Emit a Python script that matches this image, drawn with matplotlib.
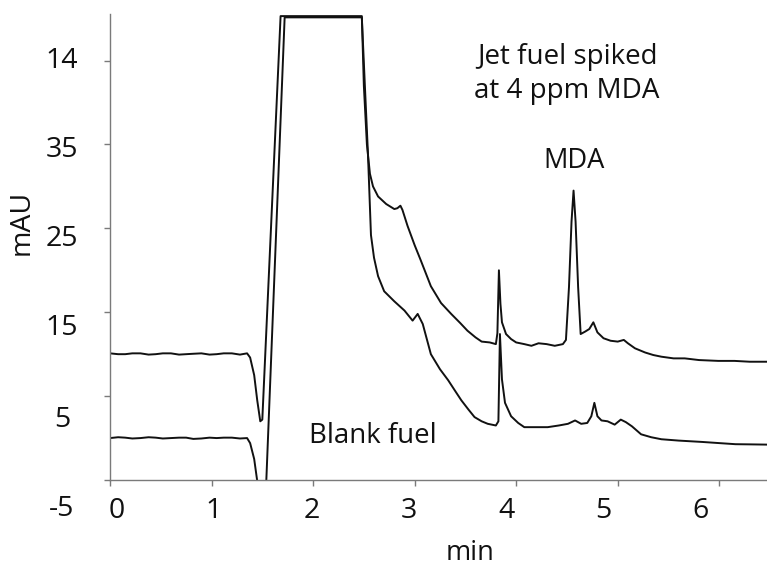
import matplotlib
matplotlib.use("Agg")
import matplotlib.pyplot as plt
from matplotlib.transforms import blended_transform_factory

# ---- data (time in min, absorbance in mAU) ----------------------------------
spiked_t = [0.00, 0.08, 0.15, 0.22, 0.30, 0.38, 0.45, 0.52, 0.60, 0.68, 0.75, 0.82, 0.90, 0.98,
            1.05, 1.12, 1.20, 1.28, 1.35, 1.38, 1.42, 1.45, 1.48,
            1.50, 1.68, 2.48, 2.50, 2.53, 2.56, 2.59, 2.64, 2.72, 2.80, 2.83, 2.86, 2.88, 2.93,
            3.00, 3.06, 3.16, 3.26, 3.36, 3.45, 3.52, 3.60, 3.66, 3.74, 3.80, 3.815, 3.83, 3.845,
            3.86, 3.90, 3.95, 4.00, 4.08, 4.15, 4.22, 4.30, 4.38, 4.46, 4.49, 4.52, 4.545, 4.565,
            4.585, 4.61, 4.635, 4.68, 4.72, 4.76, 4.80, 4.86, 4.93, 5.00, 5.06, 5.10, 5.17, 5.27,
            5.35, 5.43, 5.55, 5.66, 5.80, 5.99, 6.15, 6.30, 6.47]
spiked_mau = [10.1, 10.0, 10.0, 10.1, 10.1, 9.95, 10.0, 10.1, 10.1, 9.95, 10.0, 10.05, 10.1, 9.95,
              10.0, 10.1, 10.1, 9.95, 10.1, 9.6, 7.5, 4.5, 2.0,
              2.2, 50.3, 50.3, 42.0, 35.0, 31.5, 30.0, 28.8, 27.9, 27.3, 27.4, 27.7, 27.2, 25.3,
              23.0, 21.2, 18.1, 16.1, 14.8, 13.7, 12.8, 12.0, 11.5, 11.4, 11.2, 12.5, 20.0, 16.0,
              13.8, 12.4, 11.8, 11.4, 11.2, 11.0, 11.3, 11.2, 11.0, 11.2, 11.7, 18.0, 25.8, 29.5,
              25.8, 18.0, 12.4, 12.7, 13.0, 13.8, 12.6, 11.9, 11.6, 11.5, 11.7, 11.3, 10.7, 10.2,
              9.9, 9.7, 9.5, 9.5, 9.3, 9.2, 9.2, 9.1, 9.1]

blank_t = [0.00, 0.08, 0.15, 0.22, 0.30, 0.38, 0.45, 0.52, 0.60, 0.68, 0.75, 0.82, 0.90, 0.98,
           1.05, 1.12, 1.20, 1.28, 1.35, 1.38, 1.42, 1.46, 1.49,
           1.52, 1.72, 2.48, 2.51, 2.54, 2.57, 2.60, 2.64, 2.70, 2.80, 2.90, 2.98, 3.03, 3.08,
           3.12, 3.16, 3.25, 3.33, 3.40, 3.46, 3.53, 3.59, 3.66, 3.72, 3.80, 3.825, 3.84, 3.86,
           3.89, 3.95, 4.02, 4.08, 4.20, 4.31, 4.42, 4.51, 4.58, 4.64, 4.70, 4.74, 4.77, 4.80,
           4.84, 4.90, 4.97, 5.03, 5.08, 5.14, 5.23, 5.33, 5.43, 5.60, 5.83, 6.00, 6.16, 6.30, 6.47]
blank_mau = [0.0, 0.1, 0.05, -0.05, 0.0, 0.1, 0.05, -0.05, 0.0, 0.05, 0.05, -0.1, -0.05, 0.05,
             0.0, 0.05, 0.05, -0.05, 0.0, -0.6, -2.5, -6.0, -10.0,
             -11.0, 50.15, 50.15, 42.0, 34.0, 24.2, 21.5, 19.3, 17.5, 16.3, 15.2, 14.0, 14.8, 13.6,
             11.8, 10.0, 8.2, 6.9, 5.6, 4.5, 3.4, 2.5, 2.0, 1.7, 1.5, 2.0, 12.4, 7.0,
             4.2, 2.6, 1.8, 1.3, 1.3, 1.3, 1.5, 1.7, 2.1, 1.7, 1.8, 2.6, 4.2, 2.6,
             2.1, 2.0, 1.6, 2.2, 1.9, 1.4, 0.45, 0.1, -0.14, -0.3, -0.46, -0.6, -0.73, -0.75, -0.78]

x_ticks = [0, 1, 2, 3, 4, 5, 6]
x_labels = ["0", "1", "2", "3", "4", "5", "6"]
y_ticks = [-5, 5, 15, 25, 35, 45]
y_labels = ["-5", "5", "15", "25", "35", "14"]
# the printed labels sit slightly off their tick marks in the source figure
x_label_pos = [0.066, 1.025, 1.984, 2.943, 3.902, 4.861, 5.82]
y_label_pos = [-8.4, 2.2, 13.1, 23.7, 34.3, 45.0]

INK = "#111111"
AXIS = "#7a7a7a"
plt.rcParams.update({"font.family": ["Open Sans", "DejaVu Sans"], "font.size": 20.5})

fig = plt.figure(figsize=(7.67, 5.68), dpi=100)
ax = fig.add_axes([0.1434, 0.1549, 0.8566, 0.8197])

ax.plot(spiked_t, spiked_mau, color=INK, lw=1.4, solid_joinstyle="round")
ax.plot(blank_t, blank_mau, color=INK, lw=1.4, solid_joinstyle="round")

ax.set_xlim(0, 6.47)
ax.set_ylim(-5, 50.5)
for s in ("top", "right"):
    ax.spines[s].set_visible(False)
for s in ("left", "bottom"):
    ax.spines[s].set_color(AXIS)
    ax.spines[s].set_linewidth(1.0)
ax.set_xticks(x_ticks)
ax.set_yticks(y_ticks)
ax.set_xticklabels([])
ax.set_yticklabels([])
ax.tick_params(direction="out", length=4, width=1.0, color=AXIS)

tx = blended_transform_factory(ax.transData, fig.transFigure)
for p, lab in zip(x_label_pos, x_labels):
    ax.text(p, 1 - 511 / 568, lab, transform=tx, ha="center", va="center", color=INK)
ty = blended_transform_factory(fig.transFigure, ax.transData)
for p, lab in zip(y_label_pos, y_labels):
    ax.text(62 / 767, p, lab, transform=ty, ha="center", va="center", color=INK)

fig.text(470 / 767, 1 - 553 / 568, "min", ha="center", va="center", fontsize=19.5, color=INK)
fig.text(22 / 767, 1 - 222 / 568, "mAU", ha="center", va="center", rotation=90, color=INK)

ax.text(4.50, 43.4, "Jet fuel spiked\nat 4 ppm MDA", ha="center", va="center",
        fontsize=20, color=INK, linespacing=1.3)
ax.text(4.57, 33.0, "MDA", ha="center", va="center", fontsize=19.6, color=INK)
ax.text(2.59, 0.3, "Blank fuel", ha="center", va="center", fontsize=19.9, color=INK)

fig.savefig("out.png", dpi=100)
